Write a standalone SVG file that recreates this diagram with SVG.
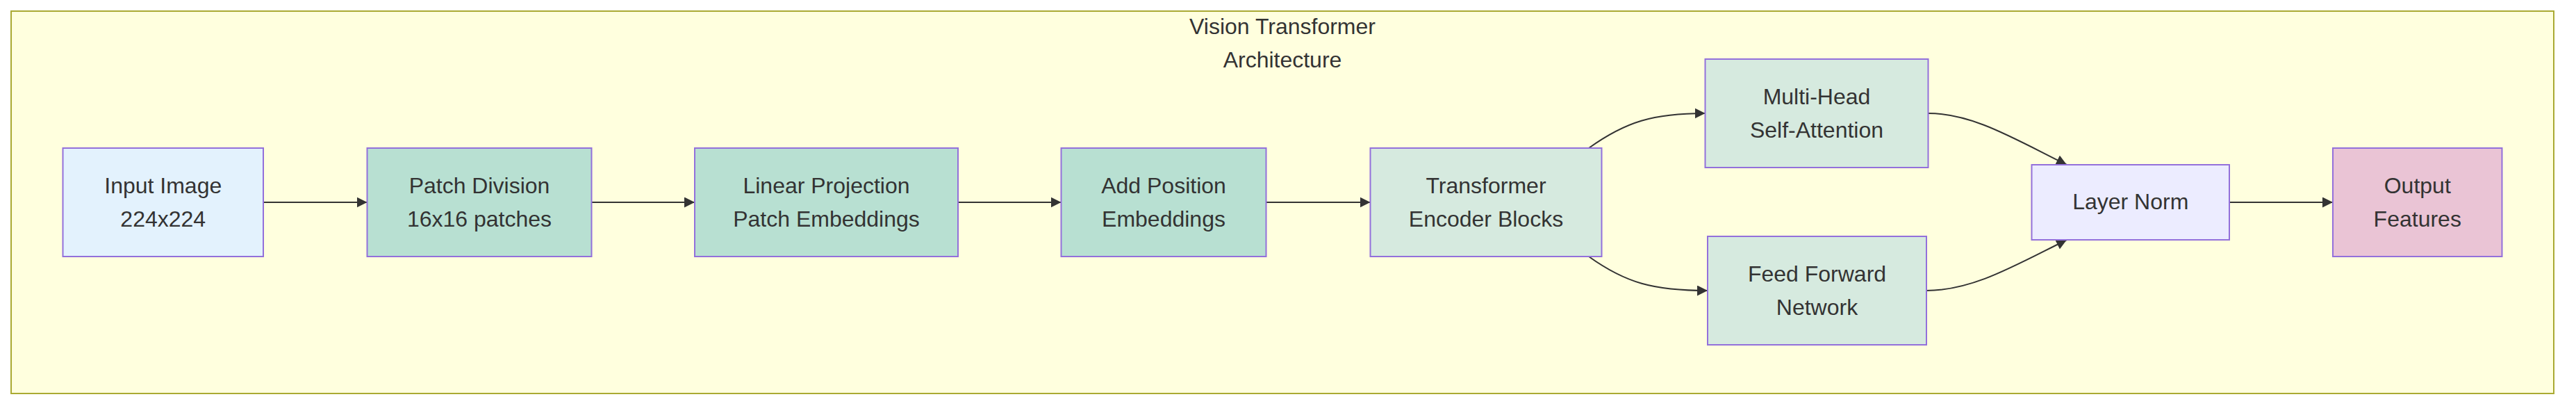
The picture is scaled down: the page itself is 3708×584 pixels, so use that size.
<svg xmlns="http://www.w3.org/2000/svg" width="3708" height="584" viewBox="0 0 3708 584">
<style>
.cluster{fill:#ffffde;stroke:#aaaa33;stroke-width:2}
.node rect{stroke:#9370db;stroke-width:2}
.lbl{font-family:"Liberation Sans",Arial,sans-serif;font-size:32px;fill:#333;text-anchor:middle}
.edge{fill:none;stroke:#333;stroke-width:2}
</style>
<defs>
<marker id="arrow" viewBox="0 0 15 15" refX="15" refY="7.5" markerWidth="15" markerHeight="15" markerUnits="userSpaceOnUse" orient="auto">
<path d="M0,0 L15,7.5 L0,15 z" fill="#333"/>
</marker>
</defs>
<rect width="3708" height="584" fill="#ffffff"/>
<g id="cluster-vit">
<rect class="cluster" x="16" y="16" width="3660" height="550"/>
<text class="lbl" x="1846" y="48.5">Vision Transformer</text>
<text class="lbl" x="1846" y="96.5">Architecture</text>
</g>
<g id="connectors">
<path class="edge" d="M379,291 L528.5,291" marker-end="url(#arrow)"/>
<path class="edge" d="M851.5,291 L1000,291" marker-end="url(#arrow)"/>
<path class="edge" d="M1379,291 L1527.5,291" marker-end="url(#arrow)"/>
<path class="edge" d="M1822.5,291 L1972.5,291" marker-end="url(#arrow)"/>
<path class="edge" d="M2287,213 C2340,175 2380,163 2454.5,163" marker-end="url(#arrow)"/>
<path class="edge" d="M2287,369 C2340,407 2380,418 2458,418" marker-end="url(#arrow)"/>
<path class="edge" d="M2775.5,163 C2840,163 2900,200 2975,237" marker-end="url(#arrow)"/>
<path class="edge" d="M2773,418 C2840,418 2900,382 2975,345" marker-end="url(#arrow)"/>
<path class="edge" d="M3209,291 L3358,291" marker-end="url(#arrow)"/>
</g>
<g id="input" class="node">
<rect x="90.5" y="213" width="288.5" height="156" fill="#e3f2fd"/>
<text class="lbl" x="234.75" y="277.5">Input Image</text>
<text class="lbl" x="234.75" y="325.5">224x224</text>
</g>
<g id="patch" class="node">
<rect x="528.5" y="213" width="323" height="156" fill="#b8e0d2"/>
<text class="lbl" x="690" y="277.5">Patch Division</text>
<text class="lbl" x="690" y="325.5">16x16 patches</text>
</g>
<g id="linear" class="node">
<rect x="1000" y="213" width="379" height="156" fill="#b8e0d2"/>
<text class="lbl" x="1189.5" y="277.5">Linear Projection</text>
<text class="lbl" x="1189.5" y="325.5">Patch Embeddings</text>
</g>
<g id="position" class="node">
<rect x="1527.5" y="213" width="295" height="156" fill="#b8e0d2"/>
<text class="lbl" x="1675" y="277.5">Add Position</text>
<text class="lbl" x="1675" y="325.5">Embeddings</text>
</g>
<g id="encoder" class="node">
<rect x="1972.5" y="213" width="333" height="156" fill="#d6eadf"/>
<text class="lbl" x="2139" y="277.5">Transformer</text>
<text class="lbl" x="2139" y="325.5">Encoder Blocks</text>
</g>
<g id="attention" class="node">
<rect x="2454.5" y="85" width="321" height="156" fill="#d6eadf"/>
<text class="lbl" x="2615" y="149.5">Multi-Head</text>
<text class="lbl" x="2615" y="197.5">Self-Attention</text>
</g>
<g id="ffn" class="node">
<rect x="2458" y="340" width="315" height="156" fill="#d6eadf"/>
<text class="lbl" x="2615.5" y="404.5">Feed Forward</text>
<text class="lbl" x="2615.5" y="452.5">Network</text>
</g>
<g id="layernorm" class="node">
<rect x="2924.5" y="237" width="284.5" height="108" fill="#ececff"/>
<text class="lbl" x="3066.75" y="301">Layer Norm</text>
</g>
<g id="output" class="node">
<rect x="3358" y="213" width="243.5" height="156" fill="#eac4d5"/>
<text class="lbl" x="3479.75" y="277.5">Output</text>
<text class="lbl" x="3479.75" y="325.5">Features</text>
</g>
</svg>
